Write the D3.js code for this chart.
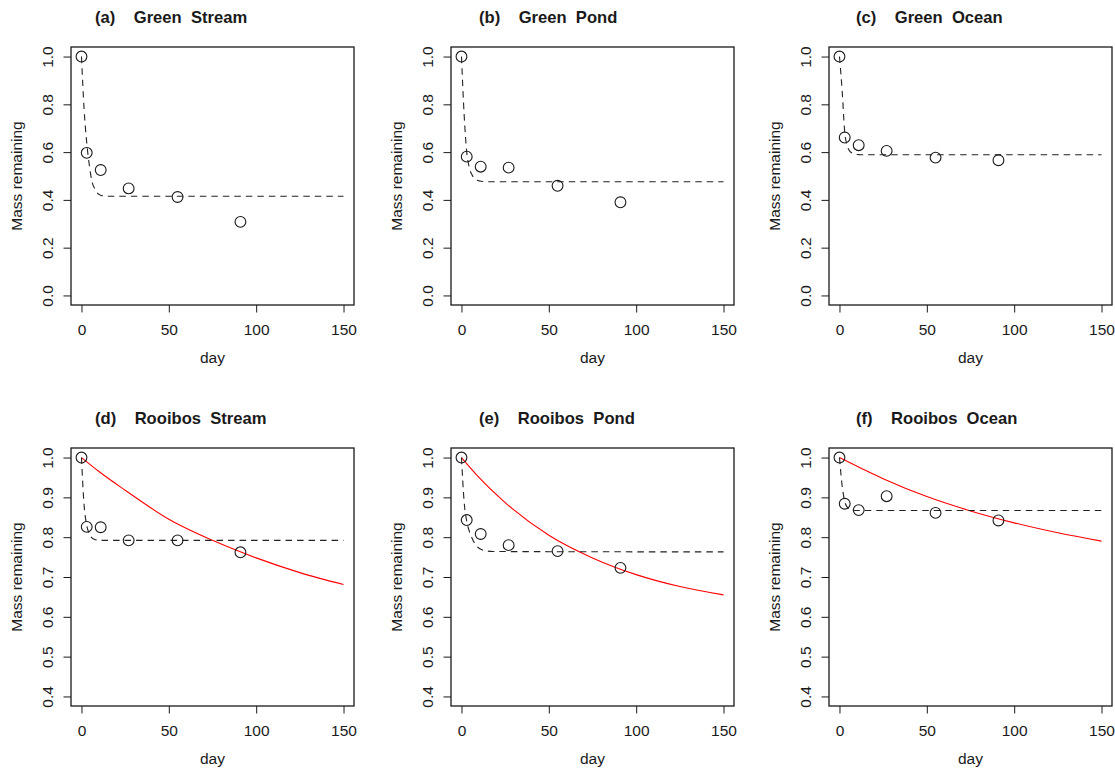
<!doctype html>
<html>
<head>
  <meta charset="UTF-8">
  <title>Mass remaining</title>
  <style>
    body { margin: 0; background: #fff; }
    text { font-family: "Liberation Sans", Arial, sans-serif; fill: #1a1a1a; }
  </style>
</head>
<body>
  <div id="chart"></div>
  <script src="https://cdn.jsdelivr.net/npm/d3@7"></script>
  <script>
    // observed sampling days
    var days = [0, 3, 11, 27, 55, 91];
    var teas = ["Green", "Rooibos"];
    var sites = ["Stream", "Pond", "Ocean"];
    var panelLabels = ["(a)", "(b)", "(c)", "(d)", "(e)", "(f)"];

    var xTicks = [0, 50, 100, 150];
    var yTicksGreen = [0, 0.2, 0.4, 0.6, 0.8, 1.0];
    var yTicksRooibos = [0.4, 0.5, 0.6, 0.7, 0.8, 0.9, 1.0];

    // observed mass remaining
    var greenStream = [1.0, 0.597, 0.525, 0.448, 0.412, 0.308];
    var greenPond = [1.0, 0.581, 0.539, 0.535, 0.459, 0.39];
    var greenOcean = [1.0, 0.661, 0.629, 0.605, 0.577, 0.566];
    var rooibosStream = [1.0, 0.826, 0.825, 0.792, 0.792, 0.762];
    var rooibosPond = [1.0, 0.843, 0.808, 0.780, 0.765, 0.723];
    var rooibosOcean = [1.0, 0.884, 0.868, 0.903, 0.861, 0.842];

    // dashed fitted curve
    var fitDays = [0, 1.5, 3, 4.5, 6, 7.5, 9, 10.5, 12, 15, 18, 150];
    var greenStreamFit = [1.0, 0.78, 0.64, 0.545, 0.477, 0.448, 0.43, 0.421, 0.417, 0.415, 0.415, 0.415];
    var greenPondFit = [1.0, 0.76, 0.60, 0.535, 0.505, 0.49, 0.482, 0.479, 0.477, 0.476, 0.476, 0.476];
    var greenOceanFit = [1.0, 0.86, 0.685, 0.625, 0.603, 0.595, 0.591, 0.59, 0.589, 0.589, 0.589, 0.589];
    var rooibosStreamFit = [1.0, 0.88, 0.83, 0.808, 0.798, 0.794, 0.793, 0.792, 0.792, 0.792, 0.792, 0.792];
    var rooibosPondFit = [1.0, 0.89, 0.84, 0.815, 0.798, 0.785, 0.776, 0.771, 0.768, 0.765, 0.764, 0.763];
    var rooibosOceanFit = [1.0, 0.93, 0.89, 0.875, 0.87, 0.868, 0.867, 0.867, 0.867, 0.867, 0.867, 0.867];

    // red curve (rooibos only)
    var redDays = [0, 10, 25, 50, 75, 100, 125, 150];
    var rooibosStreamRed = [1.0, 0.965, 0.918, 0.845, 0.792, 0.748, 0.711, 0.681];
    var rooibosPondRed = [1.0, 0.950, 0.887, 0.805, 0.748, 0.706, 0.676, 0.655];
    var rooibosOceanRed = [1.0, 0.978, 0.947, 0.902, 0.866, 0.836, 0.811, 0.790];

    var observed = [greenStream, greenPond, greenOcean, rooibosStream, rooibosPond, rooibosOcean];
    var fits = [greenStreamFit, greenPondFit, greenOceanFit, rooibosStreamFit, rooibosPondFit, rooibosOceanFit];
    var reds = [null, null, null, rooibosStreamRed, rooibosPondRed, rooibosOceanRed];

    var W = 1115, H = 772;
    var colLeft = [71, 451, 829];
    var rowTop = [47, 448];
    var pw = 283, ph = 258;
    var titleOffset = [24, 28, 27];

    var svg = d3.select("#chart").append("svg")
      .attr("width", W)
      .attr("height", H)
      .style("background", "#fff");

    var zip = function(xs, ys) {
      return xs.map(function(d, i) { return [d, ys[i]]; });
    };

    teas.forEach(function(tea, r) {
      sites.forEach(function(site, c) {
        var i = r * 3 + c;
        var left = colLeft[c], top = rowTop[r];
        var yTicks = r === 0 ? yTicksGreen : yTicksRooibos;
        var yMin = yTicks[0], yMax = yTicks[yTicks.length - 1];
        var pad = (yMax - yMin) * 0.04;

        var x = d3.scaleLinear().domain([-6, 156]).range([left, left + pw]);
        var y = d3.scaleLinear().domain([yMin - pad, yMax + pad]).range([top + ph, top]);

        var g = svg.append("g");

        // x axis
        var xa = g.append("g")
          .attr("transform", "translate(0," + (top + ph) + ")")
          .call(d3.axisBottom(x).tickValues(xTicks).tickSize(7.5).tickPadding(11.5));
        xa.select(".domain").remove();
        xa.selectAll("line").attr("stroke", "#1a1a1a");
        xa.selectAll("text").style("font-size", "15.5px").attr("fill", "#1a1a1a")
          .style("font-family", "'Liberation Sans', Arial, sans-serif");

        // y axis, labels rotated like R's default
        var ya = g.append("g")
          .attr("transform", "translate(" + left + ",0)")
          .call(d3.axisLeft(y).tickValues(yTicks).tickSize(7.5).tickFormat(d3.format(".1f")));
        ya.select(".domain").remove();
        ya.selectAll("line").attr("stroke", "#1a1a1a");
        ya.selectAll("text")
          .attr("x", null).attr("dy", null)
          .attr("transform", "translate(-18,0) rotate(-90)")
          .attr("text-anchor", "middle")
          .attr("fill", "#1a1a1a")
          .style("font-size", "15.5px")
          .style("font-family", "'Liberation Sans', Arial, sans-serif");

        // box
        g.append("rect")
          .attr("x", left).attr("y", top)
          .attr("width", pw).attr("height", ph)
          .attr("fill", "none")
          .attr("stroke", "#1a1a1a")
          .attr("stroke-width", 1.3);

        var line = d3.line()
          .x(function(d) { return x(d[0]); })
          .y(function(d) { return y(d[1]); })
          .curve(d3.curveMonotoneX);

        // red curve
        if (reds[i]) {
          g.append("path")
            .datum(zip(redDays, reds[i]))
            .attr("d", line)
            .attr("fill", "none")
            .attr("stroke", "#ff0000")
            .attr("stroke-width", 1.1);
        }

        // dashed fit
        g.append("path")
          .datum(zip(fitDays, fits[i]))
          .attr("d", line)
          .attr("fill", "none")
          .attr("stroke", "#222")
          .attr("stroke-width", 1.1)
          .attr("stroke-dasharray", "6.5,5");

        // points
        g.selectAll("circle")
          .data(zip(days, observed[i]))
          .join("circle")
          .attr("cx", function(d) { return x(d[0]); })
          .attr("cy", function(d) { return y(d[1]); })
          .attr("r", 5.4)
          .attr("fill", "none")
          .attr("stroke", "#1a1a1a")
          .attr("stroke-width", 1.1);

        // title
        g.append("text")
          .attr("x", left + titleOffset[c])
          .attr("y", top - 24)
          .style("white-space", "pre")
          .style("font-size", "16.6px")
          .style("font-weight", "bold")
          .text(panelLabels[i] + "    " + tea + "  " + site);

        // axis titles
        g.append("text")
          .attr("x", left + pw / 2)
          .attr("y", top + ph + 58)
          .attr("text-anchor", "middle")
          .style("font-size", "15.5px")
          .text("day");

        g.append("text")
          .attr("transform", "translate(" + (left - 49) + "," + (top + ph / 2) + ") rotate(-90)")
          .attr("text-anchor", "middle")
          .style("font-size", "15.5px")
          .text("Mass remaining");
      });
    });
  </script>
</body>
</html>
